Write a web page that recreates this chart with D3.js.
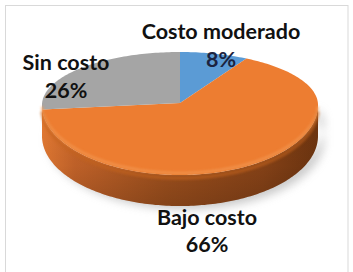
<!DOCTYPE html>
<html><head><meta charset="utf-8">
<script src="https://cdn.jsdelivr.net/npm/d3@7"></script>
<style>html,body{margin:0;padding:0;background:#fff;}svg{display:block;}</style>
</head><body>
<svg id="c" width="353" height="272"></svg>
<script>
const categories = ["Costo moderado", "Bajo costo", "Sin costo"];
const values = [8, 66, 26];
const percentLabels = ["8%", "66%", "26%"];
const colors = ["#5B9BD5", "#ED7D31", "#A5A5A5"];

(function(){
const svg = d3.select("#c");
svg.append("rect").attr("x",5.5).attr("y",5.5).attr("width",342.5).attr("height",280)
  .attr("fill","#fff").attr("stroke","#d9d9d9").attr("stroke-width",1);

const cx = 180, cy = 105, rx = 138, ryTop = 53, ryBot = 70, depth = 31;
const defs = svg.append("defs");
const blur = defs.append("filter").attr("id","blur").attr("x","-20%").attr("y","-50%").attr("width","140%").attr("height","200%");
blur.append("feGaussianBlur").attr("stdDeviation",5);
const blur2 = defs.append("filter").attr("id","blur2");
blur2.append("feGaussianBlur").attr("stdDeviation",1.2);

const sideGrad = defs.append("linearGradient").attr("id","side").attr("x1","0").attr("x2","1").attr("y1","0").attr("y2","0");
[[0,"#E47A33"],[0.12,"#C7652A"],[0.45,"#A2521E"],[0.8,"#8A4418"],[1,"#6E3510"]].forEach(([o,c])=>
  sideGrad.append("stop").attr("offset",o).attr("stop-color",c));
const sideV = defs.append("linearGradient").attr("id","sideV").attr("x1","0").attr("x2","0").attr("y1","0").attr("y2","1");
[[0,"#000",0],[0.6,"#000",0.05],[1,"#000",0.18]].forEach(([o,c,a])=>
  sideV.append("stop").attr("offset",o).attr("stop-color",c).attr("stop-opacity",a));

function pt(a, dy) {
  const s = Math.sin(a), c = Math.cos(a);
  const ry = c > 0 ? ryTop : ryBot;
  return [cx + rx * s, cy - ry * c + (dy || 0)];
}
function arcPts(a0, a1, dy) {
  const n = Math.max(2, Math.ceil(Math.abs(a1 - a0) / 0.02));
  return d3.range(n + 1).map(i => pt(a0 + (a1 - a0) * i / n, dy));
}
const line = d3.line();

const pie = d3.pie().sort(null).value(d => d)(values);

// shadow
const shadowPts = arcPts(Math.PI/2 - 0.3, 3*Math.PI/2 + 0.1, depth + 3).map(p=>[p[0]+6,p[1]]);
svg.append("path").attr("d", line(shadowPts.concat(arcPts(3*Math.PI/2+0.1, Math.PI/2-0.3, depth-12).map(p=>[p[0]+6,p[1]]))) + "Z")
  .attr("fill","#9a9a9a").attr("opacity",0.55).attr("filter","url(#blur)");

// side wall (front half)
const a0 = Math.PI/2, a1 = 3*Math.PI/2;
const topEdge = arcPts(a0, a1, 0), botEdge = arcPts(a1, a0, depth);
const sidePath = line(topEdge.concat(botEdge)) + "Z";
svg.append("path").attr("d", sidePath).attr("fill","url(#side)");
svg.append("path").attr("d", sidePath).attr("fill","url(#sideV)");

// top face slices
pie.forEach((d, i) => {
  const pts = [[cx, cy - 2]].concat(arcPts(d.startAngle, d.endAngle, 0));
  svg.append("path").attr("d", line(pts) + "Z").attr("fill", colors[i]);
});

// bevel along front edge
svg.append("path").attr("d", line(arcPts(Math.PI/2 + 0.05, 3*Math.PI/2 - 0.05, 3)))
  .attr("fill","none").attr("stroke","#C4631F").attr("stroke-width",4).attr("opacity",0.55).attr("filter","url(#blur2)");
svg.append("path").attr("d", line(arcPts(Math.PI/2 + 0.05, 3*Math.PI/2 - 0.05, -2)))
  .attr("fill","none").attr("stroke","#F39A55").attr("stroke-width",3).attr("opacity",0.6).attr("filter","url(#blur2)");

// labels
const labelPos = [[221, 39, 67], [207, 225, 252], [66, 70, 98]];
const font = "Lato, 'Open Sans', sans-serif";
const fs = 21.5;
pie.forEach((d, i) => {
  const [x, y1, y2] = labelPos[i];
  svg.append("text").attr("x", x).attr("y", y1).attr("text-anchor","middle")
    .attr("font-family", font).attr("font-weight","bold").attr("font-size",fs).attr("fill","#111")
    .text(categories[i]);
  svg.append("text").attr("x", x).attr("y", y2).attr("text-anchor","middle")
    .attr("font-family", font).attr("font-weight","bold").attr("font-size",fs).attr("fill", i===0 ? "#1b2340" : "#111")
    .text(percentLabels[i]);
});
})();
</script>
</body></html>
